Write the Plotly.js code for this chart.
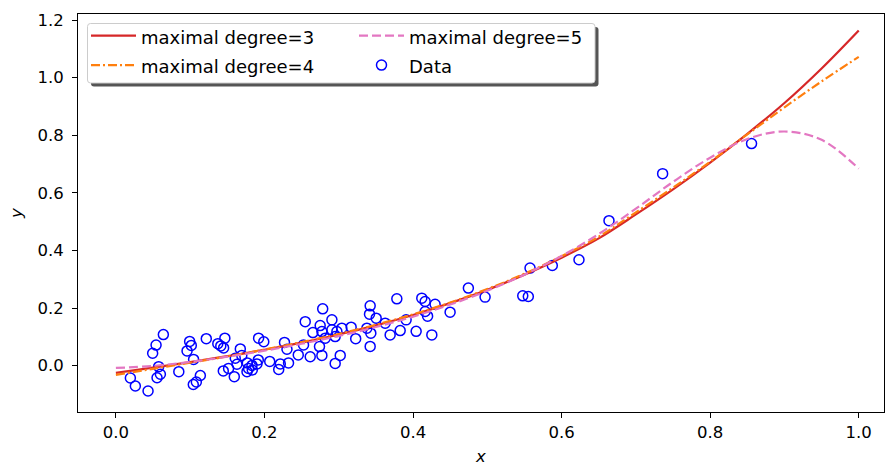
<!DOCTYPE html>
<html>
<head>
<meta charset="utf-8">
<script src="https://cdn.plot.ly/plotly-3.0.1.min.js"></script>
<style>html,body{margin:0;padding:0;background:#fff;}#chart{width:885px;height:466px;}</style>
</head>
<body>
<div id="chart"></div>
<script>
// ---- data ----
var curveX = [0.00,0.05,0.10,0.15,0.20,0.25,0.30,0.35,0.40,0.45,0.50,0.55,0.60,0.65,0.70,0.75,0.80,0.85,0.90,0.95,1.00];
var deg3Y = [-0.025,-0.007,0.012,0.033,0.055,0.080,0.108,0.140,0.176,0.217,0.263,0.316,0.375,0.442,0.525,0.612,0.705,0.805,0.912,1.032,1.164];
var deg4Y = [-0.032,-0.011,0.010,0.032,0.056,0.082,0.110,0.142,0.178,0.219,0.266,0.319,0.380,0.448,0.532,0.618,0.708,0.803,0.897,0.987,1.072];
var deg5Y = [-0.008,-0.001,0.013,0.031,0.052,0.076,0.103,0.134,0.170,0.212,0.260,0.316,0.381,0.457,0.545,0.638,0.722,0.787,0.813,0.784,0.684];

var dataX = [0.0195,0.0262,0.0433,0.0495,0.0541,0.0639,0.0576,0.0599,0.0554,0.0847,
             0.0958,0.0993,0.1015,0.1046,0.1042,0.1083,0.1137,0.1217,0.1372,0.1467,
             0.1450,0.1412,0.1675,0.1695,0.1607,0.1630,0.1517,0.1446,0.1594,0.1921,
             0.1991,0.1769,0.1832,0.1899,0.1786,0.1836,0.1765,0.1917,0.2071,0.2192,
             0.2213,0.2270,0.2303,0.2324,0.2455,0.2526,0.2549,0.2616,0.2652,0.2750,
             0.2784,0.2773,0.2908,0.2908,0.2975,0.2952,0.2818,0.2741,0.2773,0.3020,
             0.2952,0.3167,0.3228,0.3042,0.3379,0.3432,0.3423,0.3414,0.3504,0.3625,
             0.3423,0.3782,0.3692,0.3827,0.3907,0.4042,0.4118,0.4163,0.4297,0.4163,
             0.4196,0.4253,0.4499,0.4745,0.4970,0.5477,0.5552,0.5575,0.5875,0.6234,
             0.6638,0.7360,0.8557];
var dataY = [-0.0428,-0.0706,-0.0880,0.0431,0.0713,0.1078,-0.0035,-0.0299,-0.0421,-0.0209,
             0.0511,0.0842,0.0703,0.0216,-0.0654,-0.0567,-0.0341,0.0936,0.0762,0.0953,
             0.0616,0.0685,0.0581,0.0355,0.0257,0.0049,-0.0097,-0.0184,-0.0383,0.0953,
             0.0831,0.0094,0.0007,0.0059,-0.0097,-0.0150,-0.0209,0.0198,0.0146,-0.0132,
             0.0059,0.0807,0.0570,0.0094,0.0372,0.0720,0.1527,0.0310,0.1148,0.1391,
             0.1972,0.1183,0.1589,0.1242,0.1183,0.1009,0.0953,0.0661,0.0355,0.0355,
             0.0077,0.1336,0.0936,0.1301,0.1301,0.1127,0.2076,0.1788,0.1649,0.1475,
             0.0668,0.2320,0.1068,0.1217,0.1589,0.1190,0.2344,0.2226,0.2129,0.1878,
             0.1718,0.1068,0.1857,0.2692,0.2379,0.2424,0.2400,0.3388,0.3478,0.3676,
             0.5033,0.6667,0.7711];

var seriesNames = ['maximal degree=3','maximal degree=4','maximal degree=5','Data'];
var xTicks = [0.0,0.2,0.4,0.6,0.8,1.0];
var yTicks = [0.0,0.2,0.4,0.6,0.8,1.0,1.2];

// ---- chart ----
var FAM = 'DejaVu Sans, sans-serif';
var tickFont = {family:FAM, size:16.5, color:'#000'};
function legName(s){ return '<span style="font-size:18px">' + s + '</span>'; }

var traces = [
  {x:dataX, y:dataY, type:'scatter', mode:'markers', name:legName(seriesNames[3]),
   legendgroup:'b', legendrank:4,
   marker:{symbol:'circle-open', size:10, color:'#0000ff', line:{width:1.5, color:'#0000ff'}}},
  {x:curveX, y:deg3Y, type:'scatter', mode:'lines', name:legName(seriesNames[0]),
   legendgroup:'a', legendrank:1,
   line:{color:'#d62728', width:2.2, shape:'spline'}},
  {x:curveX, y:deg4Y, type:'scatter', mode:'lines', name:legName(seriesNames[1]),
   legendgroup:'a', legendrank:2,
   line:{color:'#ff7f0e', width:2.2, shape:'spline', dash:'9px,3px,2px,3px'}},
  {x:curveX, y:deg5Y, type:'scatter', mode:'lines', name:legName(seriesNames[2]),
   legendgroup:'b', legendrank:3,
   line:{color:'#e377c2', width:2.2, shape:'spline', dash:'9px,4px'}}
];

var axisCommon = {
  showgrid:false, zeroline:false, showline:true, linecolor:'#000', linewidth:1,
  mirror:true, ticks:'outside', ticklen:5, tickwidth:1, tickcolor:'#000',
  tickfont:tickFont, tickformat:'.1f'
};

function px2x(p){ return (p - 78) / 806; }
function px2y(p){ return (412 - p) / 398; }
// rounded rectangle frame (legend box decoration) in paper coordinates
function roundRect(l, t, r, b, rad){
  var L = px2x(l), R = px2x(r), T = px2y(t), B = px2y(b);
  var rx = rad / 806, ry = rad / 398;
  return 'M' + (L + rx) + ',' + T + ' L' + (R - rx) + ',' + T +
         ' Q' + R + ',' + T + ' ' + R + ',' + (T - ry) +
         ' L' + R + ',' + (B + ry) + ' Q' + R + ',' + B + ' ' + (R - rx) + ',' + B +
         ' L' + (L + rx) + ',' + B + ' Q' + L + ',' + B + ' ' + L + ',' + (B + ry) +
         ' L' + L + ',' + (T - ry) + ' Q' + L + ',' + T + ' ' + (L + rx) + ',' + T + ' Z';
}

var layout = {
  width:885, height:466,
  margin:{l:78, r:1, t:14, b:54},
  paper_bgcolor:'#fff', plot_bgcolor:'#fff',
  showlegend:true,
  xaxis:Object.assign({}, axisCommon, {
    range:[-0.051, 1.034], tickvals:xTicks,
    title:{text:'<i>x</i>', font:{family:FAM, size:16.5, color:'#000'}, standoff:10}
  }),
  yaxis:Object.assign({}, axisCommon, {
    range:[-0.161, 1.221], tickvals:yTicks, ticklabelstandoff:5,
    title:{text:'<i>y</i>', font:{family:FAM, size:16.5, color:'#000'}, standoff:10}
  }),
  legend:{
    orientation:'h', traceorder:'grouped', x:px2x(86), y:px2y(16), xanchor:'left', yanchor:'top',
    bgcolor:'rgba(0,0,0,0)', borderwidth:0, font:{family:FAM, size:20.3, color:'#000'},
    itemwidth:45, entrywidth:208
  },
  shapes:[
    {type:'path', xref:'paper', yref:'paper', layer:'above',
     path:roundRect(91, 27, 598.5, 86.5, 3), fillcolor:'#555555', line:{width:0}},
    {type:'path', xref:'paper', yref:'paper', layer:'above',
     path:roundRect(87.5, 23.5, 595, 83, 3), fillcolor:'#ffffff', line:{width:1, color:'#cccccc'}}
  ]
};

Plotly.newPlot('chart', traces, layout, {staticPlot:true, displayModeBar:false});
</script>
</body>
</html>
